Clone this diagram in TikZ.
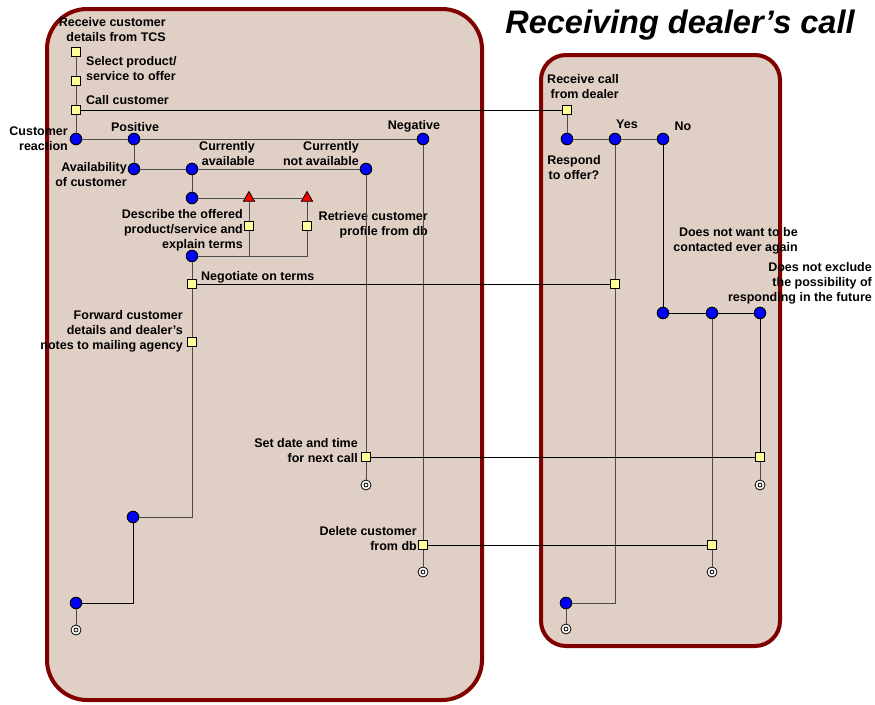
\documentclass[tikz,border=0pt]{standalone}
\usepackage{fontspec}
\setmainfont{Liberation Sans}
\usepackage{tikz}
\usetikzlibrary{shapes.geometric}
\definecolor{lanered}{RGB}{128,0,0}
\definecolor{lanefill}{RGB}{224,207,197}
\definecolor{taskyellow}{RGB}{255,255,153}
\tikzstyle{lane}=[draw=lanered, line width=4pt, fill=lanefill]
\tikzstyle{task}=[draw, line width=1.3pt, fill=taskyellow, inner sep=0pt, minimum size=9.5pt]
\tikzstyle{decision}=[draw, circle, line width=1pt, fill=blue, inner sep=0pt, minimum size=11.5pt]
\tikzstyle{gate}=[draw, regular polygon, regular polygon sides=3, line width=0.8pt, fill=red, inner sep=0pt, minimum size=13pt]
\tikzstyle{finish}=[draw, circle, line width=0.8pt, fill=white, inner sep=0pt, minimum size=10pt,
  path picture={\draw[line width=0.8pt] (path picture bounding box.center) circle (2pt);}]
\tikzstyle{txt}=[inner sep=0pt, font=\bfseries\fontsize{12.5}{15}\selectfont]
\tikzstyle{flow}=[draw=black!70, line width=0.9pt]
\tikzstyle{msg}=[draw=black, line width=0.8pt]

\begin{document}
\begin{tikzpicture}[x=1pt, y=-1pt]
        \useasboundingbox (0,0) rectangle (875,704);
        \draw[lane, rounded corners=40pt] (47,9) rectangle (482,700);
        \draw[lane, rounded corners=25pt] (541,55) rectangle (780,646);
        \node[anchor=base, font=\bfseries\itshape\fontsize{32.5}{38}\selectfont] (title) at (680,33) {Receiving dealer’s call};

        \node[task]     (S1) at (76,52) {};
        \node[task]     (S2) at (76,81) {};
        \node[task]     (S3) at (76,110) {};
        \node[decision] (D1) at (76,139) {};
        \node[decision] (D2) at (134,139) {};
        \node[decision] (Dneg) at (423,139) {};
        \node[decision] (D3) at (134,169) {};
        \node[decision] (D4) at (192,169) {};
        \node[decision] (D5) at (366,169) {};
        \node[decision] (D6) at (192,198) {};
        \node[gate]     (G1) at (249,198) {};
        \node[gate]     (G2) at (307,198) {};
        \node[task]     (S4) at (249,226) {};
        \node[task]     (S5) at (307,226) {};
        \node[decision] (D7) at (192,256) {};
        \node[task]     (S6) at (192,284) {};
        \node[task]     (S7) at (192,342) {};
        \node[decision] (D8) at (133,517) {};
        \node[decision] (D9) at (76,603) {};
        \node[finish]   (E1) at (76,630) {};
        \node[task]     (S8) at (366,457) {};
        \node[finish]   (E2) at (366,485) {};
        \node[task]     (S9) at (423,545) {};
        \node[finish]   (E3) at (423,572) {};

        \node[task]     (R1) at (567,110) {};
        \node[decision] (RD1) at (567,139) {};
        \node[decision] (RD2) at (615,139) {};
        \node[decision] (RD3) at (663,139) {};
        \node[task]     (R2) at (615,284) {};
        \node[decision] (RD5) at (663,313) {};
        \node[decision] (RD6) at (712,313) {};
        \node[decision] (RD7) at (760,313) {};
        \node[task]     (R3) at (760,457) {};
        \node[finish]   (RE6) at (760,485) {};
        \node[task]     (R4) at (712,545) {};
        \node[finish]   (RE5) at (712,572) {};
        \node[decision] (RD4) at (566,603) {};
        \node[finish]   (RE4) at (566,629) {};

        \node[txt, anchor=east, align=right] (tS1) at (166,30) {Receive customer\\details from TCS};
        \node[txt, anchor=west, align=left]  (tS2) at (86,69) {Select product/\\service to offer};
        \node[txt, anchor=west]              (tS3) at (86,100) {Call customer};
        \node[txt, anchor=east, align=right] (tD1) at (68,139) {Customer\\reaction};
        \node[txt]                           (tD2) at (135,127) {Positive};
        \node[txt]                           (tDneg) at (414,126) {Negative};
        \node[txt, anchor=east, align=right] (tD3) at (127,175) {Availability\\of customer};
        \node[txt, anchor=east, align=right] (tD4) at (255,154) {Currently\\available};
        \node[txt, anchor=east, align=right] (tD5) at (359,154) {Currently\\not available};
        \node[txt, anchor=east, align=right] (tS4) at (243,230) {Describe the offered\\product/service and\\explain terms};
        \node[txt, anchor=east, align=right] (tS5) at (428,225) {Retrieve customer\\profile from db};
        \node[txt, anchor=west]              (tS6) at (201,277) {Negotiate on terms};
        \node[txt, anchor=east, align=right] (tS7) at (183,331) {Forward customer\\details and dealer’s\\notes to mailing agency};
        \node[txt, anchor=east, align=right] (tS8) at (358,451) {Set date and time\\for next call};
        \node[txt, anchor=east, align=right] (tS9) at (417,539) {Delete customer\\from db};
        \node[txt, anchor=east, align=right] (tR1) at (619,87) {Receive call\\from dealer};
        \node[txt, align=center]             (tRD1) at (574,168) {Respond\\to offer?};
        \node[txt]                           (tRD2) at (627,124) {Yes};
        \node[txt]                           (tRD3) at (683,126) {No};
        \node[txt, anchor=east, align=right] (tRD6) at (798,241) {Does not want to be\\contacted ever again};
        \node[txt, anchor=east, align=right] (tRD7) at (872,283) {Does not exclude\\the possibility of\\responding in the future};

        \draw[flow] (S1) -- (S2) -- (S3) -- (D1);
        \draw[flow] (D1) -- (D2) -- (Dneg);
        \draw[flow] (D2) -- (D3) -- (D4) -- (D5);
        \draw[flow] (D4) -- (D6) -- (G1) -- (G2);
        \draw[flow] (G1) -- (S4) |- (D7);
        \draw[flow] (G2) -- (S5) |- (D7);
        \draw[flow] (D7) -- (S6) -- (S7) |- (D8);
        \draw[msg]  (D8) |- (D9);
        \draw[flow] (D9) -- (E1);
        \draw[flow] (D5) -- (S8) -- (E2);
        \draw[flow] (Dneg) -- (S9) -- (E3);
        \draw[flow] (R1) -- (RD1) -- (RD2) -- (RD3);
        \draw[flow] (RD2) -- (R2) |- (RD4);
        \draw[flow] (RD4) -- (RE4);
        \draw[msg]  (RD3) -- (RD5) -- (RD6) -- (RD7);
        \draw[flow] (RD6) -- (R4) -- (RE5);
        \draw[msg]  (RD7) -- (R3);
        \draw[flow] (R3) -- (RE6);
        \draw[msg]  (S3) -- (R1);
        \draw[msg]  (S6) -- (R2);
        \draw[msg]  (S8) -- (R3);
        \draw[msg]  (S9) -- (R4);
    \end{tikzpicture}
\end{document}
